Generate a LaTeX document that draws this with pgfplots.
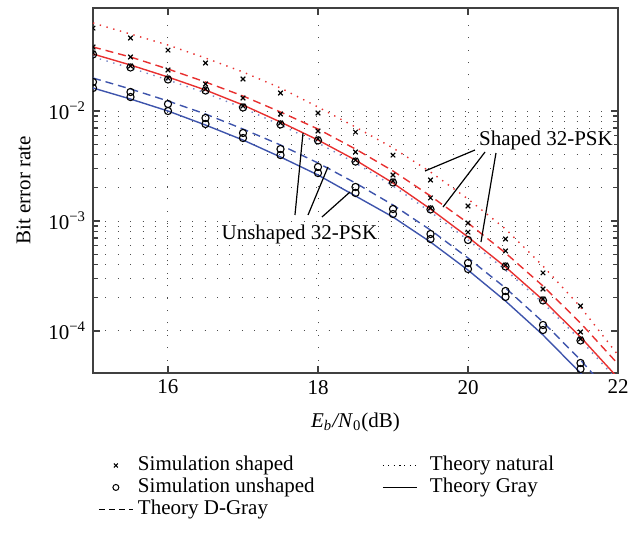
\documentclass[border=0pt]{standalone}
\usepackage{fontspec}
\setmainfont{Liberation Serif}
\usepackage{pgfplots}
\pgfplotsset{compat=1.18}
\definecolor{cred}{RGB}{232,48,48}
\definecolor{cblue}{RGB}{62,84,172}
\begin{document}
\begin{tikzpicture}[font=\fontsize{10.5}{12.5}\selectfont]
\path (-46.5pt,-82pt) rectangle (275pt,186.5pt);
\begin{semilogyaxis}[
  scale only axis, width=262.5pt, height=182.5pt,
  xmin=15, xmax=22, ymin=4.15e-5, ymax=0.0864,
  xtick={16,18,20,22},
  ytick={1e-4,1e-3,1e-2},
  yticklabels={10\textsuperscript{−4},10\textsuperscript{−3},10\textsuperscript{−2}},
  /pgf/number format/assume math mode=true,
  clip marker paths=true,
  axis line style={black!75, line width=0.8pt},
  tick style={black!75, line width=0.6pt},
  major tick length=3.5pt, minor tick length=2.5pt,
  xmajorgrids, ymajorgrids, yminorgrids,
  major grid style={black!70, line width=0.5pt, dash pattern=on 0.5pt off 5.7pt},
  minor grid style={black!70, line width=0.5pt, dash pattern=on 0.5pt off 5.7pt},
  xlabel={\textit{E}\textsubscript{\textit{b}}\textit{/N}\textsubscript{0}(dB)},
  xlabel style={at={(axis description cs:0.5,0)}, anchor=center, yshift=-24.5pt},
  ylabel={Bit error rate},
  ylabel style={at={(axis description cs:-0.1324,0.5)}, anchor=center},
  legend image code/.code={\draw[mark repeat=2,mark phase=2] plot coordinates {(0pt,0pt) (8.5pt,0pt) (17pt,0pt)};},
  legend style={at={(axis description cs:0.0095,-0.222)}, anchor=north west, draw=none, fill=none, inner sep=0pt,
    nodes={inner sep=0.8pt, text height=7.1pt, text depth=2.3pt},
    /tikz/column 1/.style={column sep=1.5pt},
    /tikz/column 2/.style={column sep=33pt},
    /tikz/column 3/.style={column sep=5.5pt}},
  legend columns=2, legend cell align=left,
]
% legend entries
\addlegendimage{only marks, mark=x, mark size=1.4pt, black, line width=0.5pt}
\addlegendentry{Simulation shaped}
\addlegendimage{black, line width=0.5pt, dash pattern=on 0.5pt off 2.2pt}
\addlegendentry{Theory natural}
\addlegendimage{only marks, mark=o, mark size=1.5pt, black, line width=0.5pt}
\addlegendentry{Simulation unshaped}
\addlegendimage{black, line width=0.5pt}
\addlegendentry{Theory Gray}
\addlegendimage{black, line width=0.5pt, dash pattern=on 3pt off 2pt}
\addlegendentry{Theory D-Gray}

% theory shaped natural (red dotted)
\addplot[cred, line width=0.7pt, dash pattern=on 0.7pt off 2.8pt, forget plot] coordinates {
(15,0.0631)(15.5,0.0501)(16,0.0398)(16.5,0.03033)(17,0.02262)(17.5,0.01619)(18,0.01087)
(18.5,0.00715)(19,0.00461)(19.5,0.00279)(20,0.001585)(20.5,8.46e-4)(21,3.90e-4)(21.5,1.653e-4)(22,6.05e-5)};
% theory shaped D-Gray (red dashed)
\addplot[cred, line width=0.7pt, dash pattern=on 4pt off 2.5pt, forget plot] coordinates {
(15,0.0382)(15.5,0.03098)(16,0.02408)(16.5,0.01835)(17,0.01369)(17.5,0.00979)(18,0.00686)
(18.5,0.00451)(19,0.00285)(19.5,0.001688)(20,9.59e-4)(20.5,5.12e-4)(21,2.565e-4)(21.5,1.182e-4)(22,5.01e-5)};
% theory shaped Gray (red solid)
\addplot[cred, line width=0.7pt, forget plot] coordinates {
(15,0.03297)(15.5,0.02619)(16,0.02037)(16.5,0.01552)(17,0.01134)(17.5,0.00794)(18,0.00545)
(18.5,0.00358)(19,0.002215)(19.5,0.001285)(20,7.15e-4)(20.5,3.82e-4)(21,1.913e-4)(21.5,8.82e-5)(22,3.74e-5)};
% theory unshaped natural (blue dotted)
\addplot[cblue!70, line width=0.7pt, dash pattern=on 0.7pt off 2.8pt, forget plot] coordinates {
(15,0.0310)(15.5,0.02462)(16,0.01915)(16.5,0.01459)(17,0.01066)(17.5,0.00746)(18,0.00512)
(18.5,0.003365)(19,0.002082)(19.5,0.001208)(20,6.72e-4)(20.5,3.59e-4)(21,1.798e-4)(21.5,8.29e-5)(22,3.52e-5)};
% theory unshaped D-Gray (blue dashed)
\addplot[cblue, line width=0.7pt, dash pattern=on 4pt off 2.5pt, forget plot] coordinates {
(15,0.01995)(15.5,0.01585)(16,0.01233)(16.5,0.00939)(17,0.00686)(17.5,0.00491)(18,0.00337)
(18.5,0.002215)(19,0.001398)(19.5,8.28e-4)(20,4.61e-4)(20.5,2.46e-4)(21,1.207e-4)(21.5,5.45e-5)(22,2.26e-5)};
% theory unshaped Gray (blue solid)
\addplot[cblue, line width=0.7pt, forget plot] coordinates {
(15,0.01619)(15.5,0.01285)(16,0.01)(16.5,0.00746)(17,0.00545)(17.5,0.00382)(18,0.00262)
(18.5,0.001688)(19,0.001087)(19.5,6.44e-4)(20,3.58e-4)(20.5,1.874e-4)(21,9.20e-5)(21.5,4.15e-5)(22,1.72e-5)};

% simulations shaped (x)
\addplot[only marks, mark=x, mark size=1.6pt, black, line width=0.55pt, forget plot] coordinates {
(15,0.0568)(15.5,0.0461)(16,0.03584)(16.5,0.02732)(17,0.01954)(17.5,0.01458)(18,0.00959)
(18.5,0.00644)(19,0.00398)(19.5,0.00236)(20,0.001369)(20.5,6.86e-4)(21,3.37e-4)(21.5,1.688e-4)};
\addplot[only marks, mark=x, mark size=1.6pt, black, line width=0.55pt, forget plot] coordinates {
(15,0.0382)(15.5,0.03098)(16,0.02359)(16.5,0.01760)(17,0.01313)(17.5,0.00939)(18,0.00658)
(18.5,0.00424)(19,0.00262)(19.5,0.00162)(20,9.59e-4)(20.5,5.34e-4)(21,2.41e-4)(21.5,9.79e-5)};
\addplot[only marks, mark=x, mark size=1.6pt, black, line width=0.55pt, forget plot] coordinates {
(15,0.03369)(15.5,0.02565)(16,0.01995)(16.5,0.01585)(17,0.01110)(17.5,0.00778)(18,0.00557)
(18.5,0.00358)(19,0.00231)(19.5,0.001313)(20,7.94e-4)(20.5,3.98e-4)(21,1.954e-4)(21.5,8.46e-5)};
% simulations unshaped (o)
\addplot[only marks, mark=o, mark size=1.8pt, black, line width=0.55pt, forget plot] coordinates {
(15,0.03268)(15.5,0.02488)(16,0.01935)(16.5,0.01537)(17,0.01077)(17.5,0.00755)(18,0.0054)
(18.5,0.00347)(19,0.00224)(19.5,0.001274)(20,6.72e-4)(20.5,3.86e-4)(21,1.895e-4)(21.5,8.2e-5)};
\addplot[only marks, mark=o, mark size=1.8pt, black, line width=0.55pt, forget plot] coordinates {
(15,0.01835)(15.5,0.01489)(16,0.01158)(16.5,0.00864)(17,0.00631)(17.5,0.00451)(18,0.00310)
(18.5,0.00204)(19,0.001285)(19.5,7.62e-4)(20,4.15e-4)(20.5,2.31e-4)(21,1.134e-4)(21.5,5.12e-5)};
\addplot[only marks, mark=o, mark size=1.8pt, black, line width=0.55pt, forget plot] coordinates {
(15,0.01619)(15.5,0.01340)(16,0.0100)(16.5,0.00762)(17,0.00568)(17.5,0.00398)(18,0.00273)
(18.5,0.00180)(19,0.001158)(19.5,6.86e-4)(20,3.66e-4)(20.5,2.04e-4)(21,1.021e-4)(21.5,4.51e-5)};

% annotations
\node[fill=white, inner sep=0.5pt] at (axis cs:21.04,5.45e-3) {Shaped 32-PSK};
\draw[black, line width=0.6pt] (axis cs:20.093,4.42e-3) -- (axis cs:19.427,2.85e-3);
\draw[black, line width=0.6pt] (axis cs:20.227,4.24e-3) -- (axis cs:19.667,1.34e-3);
\draw[black, line width=0.6pt] (axis cs:20.373,4.15e-3) -- (axis cs:20.173,6.44e-4);
\node[fill=white, inner sep=0.5pt] at (axis cs:17.753,7.62e-4) {Unshaped 32-PSK};
\draw[black, line width=0.6pt] (axis cs:17.693,1.134e-3) -- (axis cs:17.8,6.31e-3);
\draw[black, line width=0.6pt] (axis cs:17.867,1.134e-3) -- (axis cs:18.133,3.10e-3);
\draw[black, line width=0.6pt] (axis cs:18.053,1.087e-3) -- (axis cs:18.427,1.836e-3);
\end{semilogyaxis}
\end{tikzpicture}
\end{document}
